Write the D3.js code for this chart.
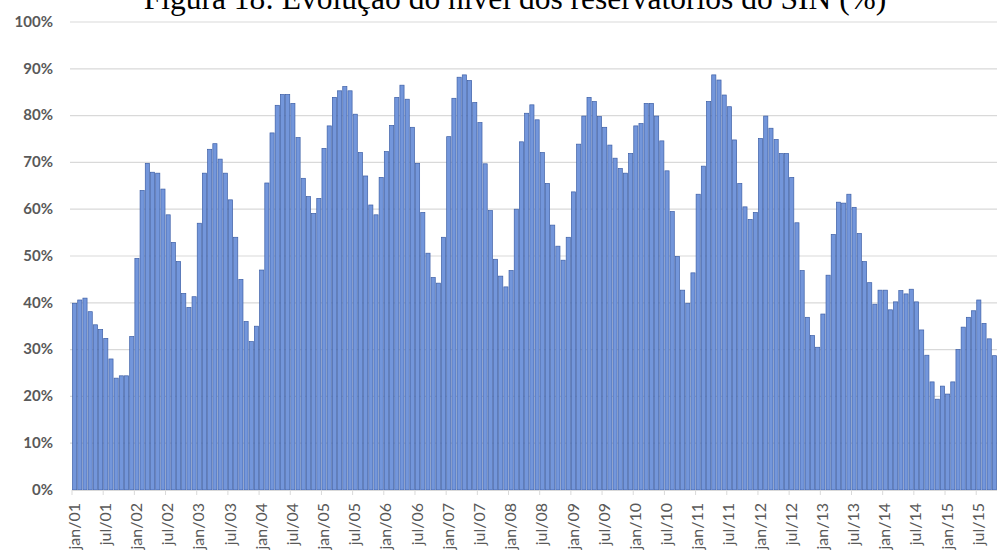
<!DOCTYPE html>
<html>
<head>
<meta charset="utf-8">
<script src="https://cdn.jsdelivr.net/npm/d3@7"></script>
<style>
  html, body { margin: 0; padding: 0; background: #ffffff; overflow: hidden; }
  svg { display: block; }
</style>
</head>
<body>
<svg id="chart" width="997" height="554"></svg>
<script>
// ---- Data (nível dos reservatórios do SIN, % por mês) ----
const monthNames = ["jan","fev","mar","abr","mai","jun","jul","ago","set","out","nov","dez"];
const years = ["01","02","03","04","05","06","07","08","09","10","11","12","13","14","15"];
const v2001 = [39.9, 40.6, 41.0, 38.1, 35.3, 34.3, 32.4, 28.0, 23.9, 24.4, 24.4, 32.8];
const v2002 = [49.5, 64.0, 69.8, 67.9, 67.7, 64.3, 58.8, 52.9, 48.8, 42.0, 39.0, 41.3];
const v2003 = [57.0, 67.7, 72.8, 74.0, 70.7, 67.7, 62.0, 54.0, 45.0, 36.0, 31.7, 35.0];
const v2004 = [47.0, 65.6, 76.3, 82.2, 84.5, 84.5, 82.6, 75.3, 66.6, 62.7, 59.1, 62.3];
const v2005 = [73.0, 77.8, 83.9, 85.3, 86.2, 85.3, 80.3, 72.1, 67.1, 60.9, 58.8, 66.8];
const v2006 = [72.3, 77.9, 83.9, 86.5, 83.5, 77.5, 69.8, 59.3, 50.6, 45.4, 44.2, 54.0];
const v2007 = [75.5, 83.7, 88.2, 88.7, 87.5, 82.8, 78.5, 69.7, 59.7, 49.3, 45.7, 43.4];
const v2008 = [46.9, 60.0, 74.4, 80.5, 82.3, 79.1, 72.1, 65.5, 56.6, 52.1, 49.1, 54.0];
const v2009 = [63.7, 73.9, 79.9, 83.9, 83.0, 79.8, 77.5, 73.7, 70.9, 68.7, 67.7, 71.9];
const v2010 = [77.8, 78.3, 82.6, 82.6, 79.9, 74.6, 68.2, 59.5, 49.9, 42.7, 39.9, 46.4];
const v2011 = [63.2, 69.2, 83.0, 88.7, 87.6, 84.4, 81.9, 74.8, 65.5, 60.5, 57.8, 59.3];
const v2012 = [75.1, 79.9, 77.3, 74.9, 71.9, 71.9, 66.8, 57.1, 46.9, 36.9, 33.0, 30.5];
const v2013 = [37.6, 45.9, 54.6, 61.5, 61.3, 63.2, 60.4, 54.8, 48.8, 44.3, 39.7, 42.7];
const v2014 = [42.7, 38.5, 40.2, 42.6, 41.9, 42.9, 40.2, 34.2, 28.8, 23.1, 19.4, 22.2];
const v2015 = [20.5, 23.1, 30.0, 34.8, 36.9, 38.3, 40.6, 35.6, 32.3, 28.7];
const yearValues = [v2001, v2002, v2003, v2004, v2005, v2006, v2007, v2008, v2009, v2010, v2011, v2012, v2013, v2014, v2015];
const tickLabels = ["jan/01","jul/01","jan/02","jul/02","jan/03","jul/03","jan/04","jul/04","jan/05","jul/05",
                    "jan/06","jul/06","jan/07","jul/07","jan/08","jul/08","jan/09","jul/09","jan/10","jul/10",
                    "jan/11","jul/11","jan/12","jul/12","jan/13","jul/13","jan/14","jul/14","jan/15","jul/15"];
const yTicks = [0, 10, 20, 30, 40, 50, 60, 70, 80, 90, 100];
const titleText = "Figura 18: Evolução do nível dos reservatórios do SIN (%)";

// ---- Build table ----
const data = [];
yearValues.forEach((vals, yi) => {
  vals.forEach((v, mi) => data.push({ key: monthNames[mi] + "/" + years[yi], value: v }));
});

// ---- Layout ----
const svg = d3.select("#chart");
const plotLeft = 72, plotRight = 997, plotTop = 22, plotBottom = 490;

const x = d3.scaleBand().domain(data.map(d => d.key)).range([plotLeft, plotRight]).paddingInner(0.2).paddingOuter(0.1);
const y = d3.scaleLinear().domain([0, 100]).range([plotBottom, plotTop]);

// gridlines
svg.append("g").selectAll("line").data(yTicks.filter(t => t > 0)).join("line")
  .attr("x1", plotLeft - 2).attr("x2", plotRight)
  .attr("y1", d => y(d)).attr("y2", d => y(d))
  .attr("stroke", "#d9d9d9").attr("stroke-width", 1.2);

// y labels
svg.append("g").selectAll("text").data(yTicks).join("text")
  .attr("x", 53).attr("y", d => y(d) + 1)
  .attr("text-anchor", "end").attr("dominant-baseline", "middle")
  .attr("font-family", "Lato, 'Open Sans', sans-serif").attr("font-weight", "bold")
  .attr("font-size", 15).attr("fill", "#595959")
  .text(d => d + "%");

// bars
svg.append("g").selectAll("rect").data(data).join("rect")
  .attr("x", d => x(d.key)).attr("width", x.bandwidth())
  .attr("y", d => y(d.value)).attr("height", d => plotBottom - y(d.value))
  .attr("fill", "#7396db").attr("stroke", "#3d5fa6").attr("stroke-width", 0.7);

// x axis line
svg.append("line").attr("x1", plotLeft).attr("x2", plotRight).attr("y1", plotBottom + 0.5).attr("y2", plotBottom + 0.5)
  .attr("stroke", "#d9d9d9").attr("stroke-width", 1.2);

// x ticks (category boundaries every 6 months) and labels
const step = x.step();
const x0 = x(data[0].key) - x.paddingOuter() * step;
const tickData = tickLabels.map(t => ({ label: t, idx: data.findIndex(d => d.key === t) }));
svg.append("g").selectAll("line").data(tickData).join("line")
  .attr("x1", d => x0 + d.idx * step).attr("x2", d => x0 + d.idx * step)
  .attr("y1", plotBottom).attr("y2", plotBottom + 5)
  .attr("stroke", "#d9d9d9").attr("stroke-width", 1);

svg.append("g").selectAll("text").data(tickData).join("text")
  .attr("transform", d => `translate(${x(d.label) + x.bandwidth() / 2 + 1},${503}) rotate(-90)`)
  .attr("text-anchor", "end").attr("dominant-baseline", "middle")
  .attr("font-family", "Lato, 'Open Sans', sans-serif")
  .attr("font-size", 16).attr("fill", "#595959")
  .text(d => d.label);

// title (partially cut at the top, as in the source figure)
svg.append("text").attr("x", 515).attr("y", 8.5)
  .attr("text-anchor", "middle")
  .attr("font-family", "'Liberation Serif', 'Times New Roman', serif")
  .attr("font-size", 31.5).attr("fill", "#000")
  .text(titleText);
</script>
</body>
</html>
